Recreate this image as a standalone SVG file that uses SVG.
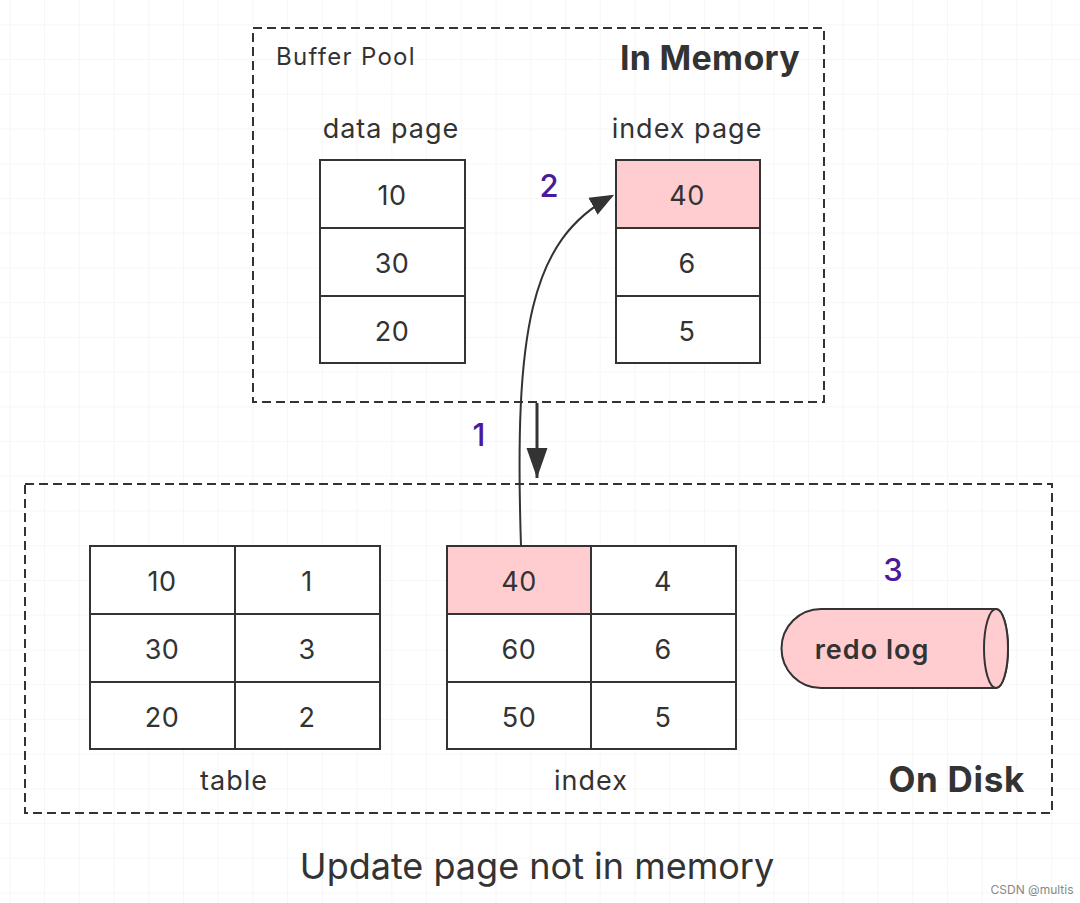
<svg xmlns="http://www.w3.org/2000/svg" width="1080" height="903" viewBox="0 0 1080 903">
<defs>
<pattern id="grid" x="9.3" y="24.3" width="34.73" height="34.73" patternUnits="userSpaceOnUse">
<path d="M0 0H34.73M0 0V34.73" fill="none" stroke="#f0f0f0" stroke-width="1.2"/>
</pattern>
<marker id="ah2" viewBox="0 0 10 10" refX="9" refY="5" markerWidth="24" markerHeight="24" markerUnits="userSpaceOnUse" orient="auto">
<path d="M0 1L10 5L0 9Z" fill="#333"/>
</marker>
<marker id="ah3" viewBox="0 0 10 10" refX="10" refY="5" markerWidth="10" markerHeight="10" orient="auto">
<path d="M0 1.5L10 5L0 8.5Z" fill="#333"/>
</marker>
</defs>
<style>
text{font-family:Inter,"Liberation Sans",Arial,sans-serif;fill:#333}
.cell{fill:#fff;stroke:#333;stroke-width:2}
.pink{fill:#ffccd0}
.num{font-size:27px;text-anchor:middle;letter-spacing:0.5px}
.lbl{font-size:27px;text-anchor:middle;letter-spacing:1px}
.step{font-size:31px;font-weight:500;fill:#4b1a9b;text-anchor:middle}
.dash{fill:none;stroke:#333;stroke-width:2;stroke-dasharray:9 5}
</style>
<rect width="1080" height="903" fill="#fff"/>
<rect width="1080" height="903" fill="url(#grid)"/>

<g id="memory">
<rect x="253" y="28" width="571" height="374" fill="#fff" class="dash"/>
<text x="276" y="65" font-size="24" letter-spacing="1.3">Buffer Pool</text>
<text x="800" y="70" font-size="34" font-weight="bold" text-anchor="end" letter-spacing="0.3">In Memory</text>
</g>

<g id="disk">
<rect x="25" y="484" width="1027" height="329" fill="#fff" class="dash"/>
<text x="1025" y="792" font-size="35" font-weight="bold" text-anchor="end" letter-spacing="0.7">On Disk</text>
</g>

<g id="data-page">
<text class="lbl" x="391" y="138">data page</text>
<rect class="cell" x="320" y="160" width="145" height="68"/>
<rect class="cell" x="320" y="228" width="145" height="68"/>
<rect class="cell" x="320" y="296" width="145" height="67"/>
<text class="num" x="392" y="205">10</text>
<text class="num" x="392" y="273">30</text>
<text class="num" x="392" y="341">20</text>
</g>

<g id="index-page">
<text class="lbl" x="687" y="138">index page</text>
<rect class="cell pink" x="616" y="160" width="144" height="68"/>
<rect class="cell" x="616" y="228" width="144" height="68"/>
<rect class="cell" x="616" y="296" width="144" height="67"/>
<text class="num" x="687" y="205">40</text>
<text class="num" x="687" y="273">6</text>
<text class="num" x="687" y="341">5</text>
</g>

<g id="table">
<rect class="cell" x="90" y="546" width="145" height="68"/>
<rect class="cell" x="235" y="546" width="145" height="68"/>
<rect class="cell" x="90" y="614" width="145" height="68"/>
<rect class="cell" x="235" y="614" width="145" height="68"/>
<rect class="cell" x="90" y="682" width="145" height="67"/>
<rect class="cell" x="235" y="682" width="145" height="67"/>
<text class="num" x="162" y="591">10</text>
<text class="num" x="307" y="591">1</text>
<text class="num" x="162" y="659">30</text>
<text class="num" x="307" y="659">3</text>
<text class="num" x="162" y="727">20</text>
<text class="num" x="307" y="727">2</text>
<text class="lbl" x="234" y="790">table</text>
</g>

<g id="index">
<rect class="cell pink" x="447" y="546" width="144" height="68"/>
<rect class="cell" x="591" y="546" width="145" height="68"/>
<rect class="cell" x="447" y="614" width="144" height="68"/>
<rect class="cell" x="591" y="614" width="145" height="68"/>
<rect class="cell" x="447" y="682" width="144" height="67"/>
<rect class="cell" x="591" y="682" width="145" height="67"/>
<text class="num" x="519" y="591">40</text>
<text class="num" x="663" y="591">4</text>
<text class="num" x="519" y="659">60</text>
<text class="num" x="663" y="659">6</text>
<text class="num" x="519" y="727">50</text>
<text class="num" x="663" y="727">5</text>
<text class="lbl" x="591" y="790">index</text>
</g>

<g id="redo-log">
<path d="M821 609H996A12 39.5 0 0 1 996 688H821A39.5 39.5 0 0 1 821 609Z" fill="#ffccd0" stroke="#333" stroke-width="2"/>
<ellipse cx="996" cy="648.5" rx="12" ry="39.5" fill="#ffccd0" stroke="#333" stroke-width="2"/>
<text x="872" y="659" font-size="27" font-weight="600" text-anchor="middle" letter-spacing="1">redo log</text>
</g>

<g id="connectors">
<path d="M521 546C514 330 530 240 612 196" fill="none" stroke="#333" stroke-width="2" marker-end="url(#ah2)"/>
<path d="M537 403V478" fill="none" stroke="#333" stroke-width="3" marker-end="url(#ah3)"/>
</g>

<g id="labels">
<text class="step" x="479" y="446">1</text>
<text class="step" x="549" y="197">2</text>
<text class="step" x="893" y="581">3</text>
<text x="537" y="879" font-size="36" text-anchor="middle">Update page not in memory</text>
<text x="1032" y="894" font-size="12" text-anchor="middle" style="fill:#888">CSDN @multis</text>
</g>
</svg>
